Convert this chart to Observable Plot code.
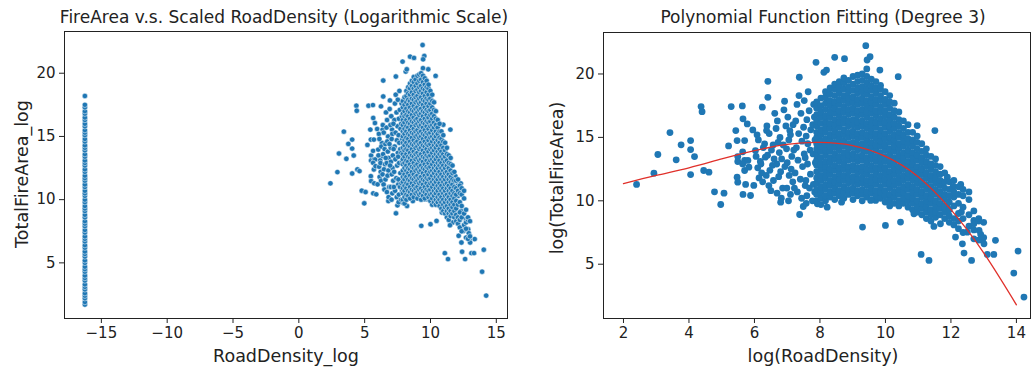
<!DOCTYPE html>
<html>
<head>
<meta charset="utf-8">
<script src="https://cdn.jsdelivr.net/npm/d3@7"></script>
<script src="https://cdn.jsdelivr.net/npm/@observablehq/plot@0.6"></script>
<style>
  body { margin: 0; background: #fff; }
  #wrap { position: relative; width: 1032px; height: 368px; overflow: hidden;
          font-family: "DejaVu Sans", sans-serif; color: #222; }
  .panel { position: absolute; top: 0; }
  .t { position: absolute; white-space: nowrap; transform: translate(-50%, -50%); font-size: 17.5px; }
  .title { font-size: 17px; }
  .rot { transform: translate(-50%, -50%) rotate(-90deg); }
</style>
</head>
<body>
<div id="wrap">
  <div class="t title" style="left:284px;top:17px">FireArea v.s. Scaled RoadDensity (Logarithmic Scale)</div>
  <div class="t title" style="left:823px;top:17px">Polynomial Function Fitting (Degree 3)</div>
  <div class="t rot" style="left:22px;top:174px">TotalFireArea_log</div>
  <div class="t rot" style="left:557px;top:178px">log(TotalFireArea)</div>
  <div class="t" style="left:286px;top:356px">RoadDensity_log</div>
  <div class="t" style="left:823px;top:356px">log(RoadDensity)</div>
</div>
<script>
// Counties with zero road density: log of the scaled zero sits at one x position.
const zeroDensityX = -16.25;
const zeroDensityFireLog = [1.7, 1.9, 2.2, 2.4, 2.6, 2.9, 3.1, 3.3, 3.6, 3.8, 4.0, 4.3, 4.5, 4.7, 5.0, 5.2,
  5.5, 5.7, 5.9, 6.2, 6.4, 6.7, 6.9, 7.1, 7.4, 7.6, 7.9, 8.1, 8.3, 8.6, 8.8, 9.1, 9.3, 9.5, 9.8, 10.0,
  10.3, 10.5, 10.7, 11.0, 11.2, 11.5, 11.7, 11.9, 12.2, 12.4, 12.7, 12.9, 13.1, 13.4, 13.6, 13.9, 14.1,
  14.3, 14.6, 14.8, 15.1, 15.3, 15.5, 15.8, 16.0, 16.3, 16.5, 16.8, 17.0, 17.3, 17.5, 18.2];

// Scattered counties: [log road density, log fire area]
const scatteredPoints = [
  [2.40,11.29],[2.93,12.18],[3.05,13.65],[3.42,15.38],[3.61,13.23],[3.76,14.41],[4.05,14.75],[4.05,14.04],
  [4.17,13.49],[4.05,12.07],[4.37,17.43],[4.40,17.03],[4.45,12.39],[4.61,12.26],[4.78,10.71],[5.07,10.60],
  [4.97,9.71],[5.21,14.33],[5.29,17.43],[5.43,15.54],[5.47,14.75],[5.49,13.49],[5.49,13.10],[5.47,11.86],
  [5.49,11.47],[5.63,17.48],[5.65,16.46],[5.78,16.06],[5.70,14.75],[5.64,13.86],[5.70,13.18],[5.80,13.18],
  [5.64,12.91],[5.70,12.39],[5.73,11.29],[5.65,10.50],[5.98,11.21],[5.88,10.42],[5.95,15.59],[6.03,13.96],
  [5.83,12.65],[6.24,17.38],[6.41,18.16],[6.41,19.42],[6.37,15.54],[6.31,14.49],[6.33,13.44],[6.80,9.89],
  [6.62,16.90],[6.90,17.17],[6.92,17.85],[7.08,15.54],[7.37,19.74],[7.38,8.92],[7.49,9.55],[7.88,20.92],
  [8.12,20.13],[8.45,21.31],[8.20,20.31],[8.75,21.21],[9.40,22.23],[9.53,21.36],[9.44,21.10],[9.83,20.31],
  [10.39,19.79],[10.97,15.93],[11.51,15.54],[9.30,7.93],[11.09,5.77],[11.33,5.30],[12.40,5.88],[12.63,5.30],
  [13.11,5.77],[13.31,5.77],[13.36,6.88],[14.05,6.04],[13.92,4.30],[14.23,2.41],[12.50,7.53],[12.86,7.66],
  [12.91,7.35],[12.96,6.88],[13.01,6.61],[12.70,8.45],[12.32,9.11],[12.07,11.13],[12.30,11.29],[11.89,11.86],
  [12.09,10.29],[11.89,9.50],[12.14,7.14],[12.35,6.61],[11.68,8.19],[11.48,7.98],[10.87,8.98],[10.46,8.32],
  [10.00,8.06],[10.16,9.76],[9.70,10.03],[9.55,10.03],[8.66,9.89],[8.22,9.50],[7.92,9.76],
  [6.08,15.2],[6.12,14.8],[6.05,13.5],[6.18,13.1],[6.10,12.6],[6.22,12.2],[6.14,11.8],[6.25,11.5],[6.20,12.9],[6.27,14.2],
  [6.38,15.9],[6.45,15.3],[6.52,14.0],[6.40,13.6],[6.55,12.8],[6.47,12.4],[6.36,12.0],[6.58,11.6],[6.44,11.2],[6.50,10.8],[6.57,14.4],
  [6.70,16.3],[6.66,15.7],[6.78,15.0],[6.72,14.6],[6.83,13.3],[6.68,12.9],[6.80,12.3],[6.74,11.9],[6.86,11.0],[6.69,10.6],[6.82,10.2],[6.76,13.8],
  [7.02,16.6],[6.96,15.9],[7.10,15.2],[7.05,14.8],[6.98,14.1],[7.14,13.5],[7.00,13.0],[7.12,12.5],[7.06,12.0],[7.17,11.5],[6.99,11.0],[7.10,10.5],[7.04,10.0],
  [7.30,17.6],[7.42,16.9],[7.26,16.3],[7.50,15.8],[7.35,15.3],[7.45,14.7],[7.28,14.2],[7.52,13.7],[7.33,13.2],[7.47,12.7],[7.24,12.2],[7.40,11.7],[7.55,11.2],[7.31,10.7],[7.44,10.2],[7.58,9.8],[7.36,18.3],
  [7.60,10.4],[7.68,11.0],[7.57,11.6],[7.71,12.1],[7.62,12.9],[7.55,13.4],[7.70,14.0],[7.63,14.5],[7.58,15.1],[7.72,15.6],[7.60,16.4],[7.67,17.1],
  [7.77,10.0],[7.84,10.7],[7.80,11.3],[7.86,13.0],[7.79,13.7],[7.85,14.8],[7.78,16.0],[7.83,16.6],[7.81,17.6],[7.52,17.9],[7.64,18.6],
  [6.88,14.4],[6.93,12.7],[7.20,14.0],[7.22,11.0],[6.60,13.3],[7.18,16.0]
];

// Dense core of the cloud, one column per road-density value: [x, y, y, ...]
const denseColumns = [
  [7.90, 10.0,10.5,10.9,11.4,11.8,12.3,12.8,13.2,13.6,14.1,14.5,15.0,15.4,15.9,16.3,16.8,17.3,17.8],
  [8.03, 9.7,10.2,10.7,11.1,11.6,12.0,12.5,12.9,13.4,13.9,14.3,14.7,15.2,15.6,16.1,16.6,17.0,17.5,18.1],
  [8.17, 10.0,10.4,10.9,11.3,11.8,12.3,12.7,13.1,13.6,14.0,14.5,14.9,15.4,15.8,16.3,16.7,17.2,17.7,18.2,18.6],
  [8.31, 10.3,10.7,11.2,11.6,12.1,12.5,13.0,13.4,13.9,14.3,14.8,15.2,15.7,16.1,16.6,17.0,17.5,17.9,18.4,18.9],
  [8.45, 10.1,10.6,11.0,11.5,11.9,12.4,12.8,13.3,13.7,14.2,14.6,15.1,15.5,16.0,16.4,16.9,17.3,17.8,18.3,18.8,19.2],
  [8.59, 10.4,10.8,11.3,11.7,12.2,12.6,13.1,13.5,14.0,14.4,14.9,15.3,15.8,16.2,16.7,17.1,17.6,18.0,18.5,19.0,19.4],
  [8.73, 10.2,10.7,11.1,11.6,12.0,12.5,12.9,13.4,13.8,14.3,14.7,15.2,15.6,16.1,16.5,17.0,17.4,17.9,18.3,18.8,19.3,19.7],
  [8.87, 10.5,10.9,11.4,11.8,12.3,12.7,13.2,13.6,14.1,14.5,15.0,15.4,15.9,16.3,16.8,17.2,17.7,18.1,18.6,19.0,19.5],
  [9.01, 10.1,10.6,11.0,11.5,11.9,12.4,12.8,13.3,13.7,14.2,14.6,15.1,15.5,16.0,16.4,16.9,17.3,17.8,18.2,18.7,19.2,19.8],
  [9.15, 10.4,10.8,11.3,11.7,12.2,12.6,13.1,13.5,14.0,14.4,14.9,15.3,15.8,16.2,16.7,17.1,17.6,18.0,18.5,18.9,19.4,19.9],
  [9.29, 10.0,10.5,10.9,11.4,11.8,12.3,12.7,13.2,13.6,14.1,14.5,15.0,15.4,15.9,16.3,16.8,17.2,17.7,18.1,18.6,19.0,19.5,20.0],
  [9.43, 10.3,10.7,11.2,11.6,12.1,12.5,13.0,13.4,13.9,14.3,14.8,15.2,15.7,16.1,16.6,17.0,17.5,17.9,18.4,18.8,19.3,19.8,20.4],
  [9.57, 10.1,10.6,11.0,11.5,11.9,12.4,12.8,13.3,13.7,14.2,14.6,15.1,15.5,16.0,16.4,16.9,17.3,17.8,18.2,18.7,19.1,19.6],
  [9.71, 10.4,10.8,11.3,11.7,12.2,12.6,13.1,13.5,14.0,14.4,14.9,15.3,15.8,16.2,16.7,17.1,17.6,18.0,18.5,18.9,19.4],
  [9.85, 10.2,10.7,11.1,11.6,12.0,12.5,12.9,13.4,13.8,14.3,14.7,15.2,15.6,16.1,16.5,17.0,17.4,17.9,18.3,18.8,19.1],
  [9.99, 9.9,10.4,10.8,11.3,11.7,12.2,12.6,13.1,13.5,14.0,14.4,14.9,15.3,15.8,16.2,16.7,17.1,17.6,18.0,18.6],
  [10.13, 9.6,10.1,10.5,11.0,11.4,11.9,12.3,12.8,13.2,13.7,14.1,14.6,15.0,15.5,15.9,16.4,16.8,17.3,17.8,18.3],
  [10.27, 9.8,10.3,10.7,11.2,11.6,12.1,12.5,13.0,13.4,13.9,14.3,14.8,15.2,15.7,16.1,16.6,17.1,17.7],
  [10.41, 9.6,10.0,10.5,10.9,11.4,11.8,12.3,12.7,13.2,13.6,14.1,14.5,15.0,15.4,15.9,16.4,17.0],
  [10.55, 9.8,10.2,10.7,11.1,11.6,12.0,12.5,12.9,13.4,13.8,14.3,14.7,15.2,15.7,16.3],
  [10.69, 9.5,10.0,10.4,10.9,11.3,11.8,12.2,12.7,13.1,13.6,14.0,14.5,14.9,15.4,16.0],
  [10.83, 9.3,9.8,10.2,10.7,11.1,11.6,12.0,12.5,12.9,13.4,13.8,14.3,14.8,15.4],
  [10.97, 9.1,9.6,10.0,10.5,10.9,11.4,11.8,12.3,12.7,13.2,13.6,14.1,14.6,15.1],
  [11.11, 8.9,9.4,9.8,10.3,10.7,11.2,11.6,12.1,12.5,13.0,13.4,13.9,14.5],
  [11.25, 8.6,9.1,9.5,10.0,10.4,10.9,11.3,11.8,12.2,12.7,13.1,13.6,14.1],
  [11.39, 8.4,8.9,9.3,9.8,10.2,10.7,11.1,11.6,12.0,12.5,12.9,13.5],
  [11.53, 8.7,9.1,9.6,10.0,10.5,10.9,11.4,11.8,12.3,12.8,13.3],
  [11.67, 8.9,9.4,9.8,10.3,10.7,11.2,11.6,12.1,12.7],
  [11.81, 8.6,9.1,9.6,10.1,10.5,11.0,11.5,12.2],
  [11.95, 8.3,8.8,9.3,9.9,10.4,10.9,11.5],
  [12.09, 8.1,8.6,9.6,10.7,11.6],
  [12.23, 7.8,8.4,9.0,9.8,10.5,11.1],
  [12.37, 7.5,8.6,9.5,10.4,10.9],
  [12.55, 8.0,8.9,10.1,10.7],
  [12.70, 7.0,7.7,8.2,9.2],
  [12.85, 6.9,8.4,8.6],
  [13.00, 7.1,8.3]
];

// Cubic fit
const fitX = [2, 3, 4, 5, 6, 7, 8, 9, 10, 11, 12, 13, 14];
const fitY = [11.35, 12.0, 12.6, 13.3, 13.95, 14.45, 14.6, 14.35, 13.5, 11.9, 9.3, 5.9, 1.8];

const cloud = scatteredPoints.map(([x, y]) => ({x, y}))
  .concat(denseColumns.flatMap(([x, ...ys]) => ys.map(y => ({x, y}))));
const zeroRows = zeroDensityFireLog.map(y => ({x: zeroDensityX, y}));
const fitRows = fitX.map((x, i) => ({x, y: fitY[i]}));

const baseStyle = {fontFamily: "DejaVu Sans, sans-serif", fontSize: "15px", color: "#222", background: "transparent", overflow: "visible"};

const left = Plot.plot({
  width: 520, height: 368,
  marginLeft: 64, marginRight: 13, marginTop: 31, marginBottom: 50,
  style: baseStyle,
  x: {domain: [-17.8, 15.85]},
  y: {domain: [0.6, 23.3]},
  marks: [
    Plot.dot(zeroRows.concat(cloud), {x: "x", y: "y", r: 2.7, fill: "#1f77b4", stroke: "white", strokeWidth: 0.5}),
    Plot.frame({stroke: "#222", strokeWidth: 1}),
    Plot.axisX({ticks: [-15, -10, -5, 0, 5, 10, 15], tickSize: 5, tickPadding: 4, label: null}),
    Plot.axisY({ticks: [5, 10, 15, 20], tickSize: 5, tickPadding: 4, label: null})
  ]
});
left.classList.add("panel");
left.style.left = "0px";

const right = Plot.plot({
  width: 512, height: 368,
  marginLeft: 83, marginRight: 2, marginTop: 32, marginBottom: 50,
  style: baseStyle,
  x: {domain: [1.39, 14.43]},
  y: {domain: [0.72, 23.27]},
  marks: [
    Plot.dot(cloud, {x: "x", y: "y", r: 3.4, fill: "#1f77b4"}),
    Plot.line(fitRows, {x: "x", y: "y", stroke: "#e0302a", strokeWidth: 1.3, curve: "natural"}),
    Plot.frame({stroke: "#222", strokeWidth: 1}),
    Plot.axisX({ticks: [2, 4, 6, 8, 10, 12, 14], tickSize: 5, tickPadding: 4, label: null}),
    Plot.axisY({ticks: [5, 10, 15, 20], tickSize: 5, tickPadding: 4, label: null})
  ]
});
right.classList.add("panel");
right.style.left = "520px";

const wrap = document.getElementById("wrap");
wrap.prepend(right);
wrap.prepend(left);
</script>
</body>
</html>
